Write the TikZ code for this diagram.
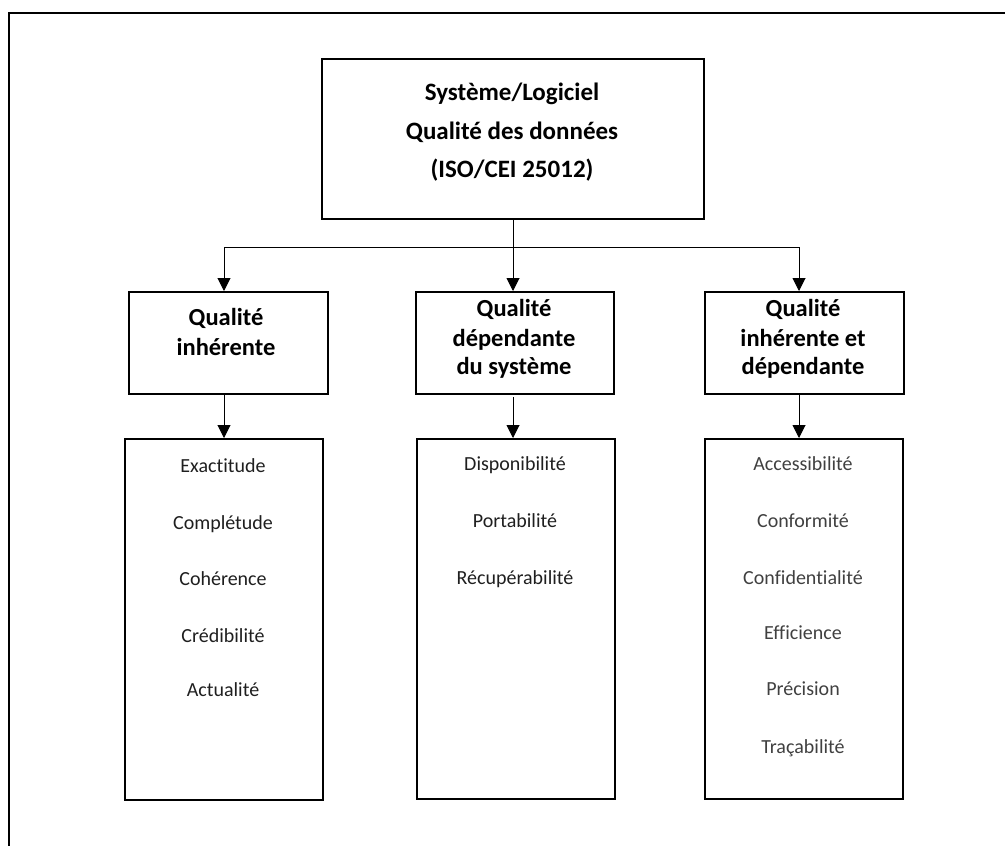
\documentclass[tikz,border=0pt]{standalone}
\usepackage{fontspec}
\setmainfont{Carlito}[RawFeature={-liga}]
\usetikzlibrary{arrows.meta}
\begin{document}
\begin{tikzpicture}[x=1pt,y=-1pt,
  box/.style={draw,line width=2pt,inner sep=0pt,anchor=north west},
  hdr/.style={font=\fontsize{24.5}{24.5}\selectfont\bfseries,inner sep=0pt,anchor=base},
  ttl/.style={font=\fontsize{25}{25}\selectfont\bfseries,inner sep=0pt,anchor=base},
  item/.style={font=\fontsize{20}{20}\selectfont,inner sep=0pt,anchor=base,text=black!88},
  itemlight/.style={font=\fontsize{20}{20}\selectfont,inner sep=0pt,anchor=base,text=black!75},
  conn/.style={line width=1pt},
  arr/.style={line width=1pt,-{Triangle[width=13pt,length=13pt]}}]
\useasboundingbox (0,0) rectangle (1005,846);
% outer frame
\draw[line width=2pt] (9,846) -- (9,13) -- (1005,13);
% top box
\node[box,minimum width=382pt,minimum height=160pt] (top) at (321,58) {};
\node[ttl] (t1) at (512,100) {Système/Logiciel};
\node[ttl] (t2) at (512,139) {Qualité des données};
\node[ttl] (t3) at (512,177) {(ISO/CEI 25012)};
% header boxes
\node[box,minimum width=199pt,minimum height=102pt] (h1) at (128,291) {};
\node[box,minimum width=198pt,minimum height=102pt] (h2) at (415,291) {};
\node[box,minimum width=199pt,minimum height=102pt] (h3) at (704,291) {};
\node[hdr] (h1a) at (226,325) {Qualité};
\node[hdr] (h1b) at (226,355) {inhérente};
\node[hdr] (h2a) at (514,316) {Qualité};
\node[hdr] (h2b) at (514,346) {dépendante};
\node[hdr] (h2c) at (514,374) {du système};
\node[hdr] (h3a) at (803,316) {Qualité};
\node[hdr] (h3b) at (803,346) {inhérente et};
\node[hdr] (h3c) at (803,374) {dépendante};
% list boxes
\node[box,minimum width=198pt,minimum height=361pt] (l1) at (124,438) {};
\node[box,minimum width=198pt,minimum height=360pt] (l2) at (416,438) {};
\node[box,minimum width=198pt,minimum height=360pt] (l3) at (704,438) {};
\node[item] (a1) at (223,472) {Exactitude};
\node[item] (a2) at (223,529) {Complétude};
\node[item] (a3) at (223,585) {Cohérence};
\node[item] (a4) at (223,642) {Crédibilité};
\node[item] (a5) at (223,696) {Actualité};
\node[item] (b1) at (515,470) {Disponibilité};
\node[item] (b2) at (515,527) {Portabilité};
\node[item] (b3) at (515,584) {Récupérabilité};
\node[itemlight] (c1) at (803,470) {Accessibilité};
\node[itemlight] (c2) at (803,527) {Conformité};
\node[itemlight] (c3) at (803,584) {Confidentialité};
\node[itemlight] (c4) at (803,639) {Efficience};
\node[itemlight] (c5) at (803,695) {Précision};
\node[itemlight] (c6) at (803,753) {Traçabilité};
% connectors
\coordinate (j) at (512,247);
\coordinate (jl) at (224,247);
\coordinate (jr) at (799,247);
\draw[conn] (jl) -- (jr);
\draw[arr] (top.south) -- (top.south |- h2.north);
\draw[arr] (jl) -- (jl |- h1.north);
\draw[arr] (jr) -- (jr |- h3.north);
\draw[arr] (224,393) -- (224,438);
\draw[arr] (513,397) -- (513,438);
\draw[arr] (799,393) -- (799,438);
\end{tikzpicture}
\end{document}
